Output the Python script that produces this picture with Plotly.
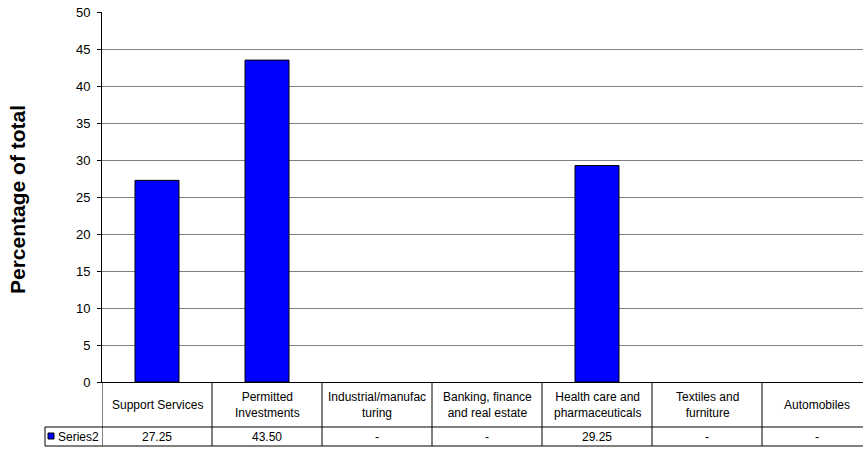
import plotly.graph_objects as go

categories = ["Support Services", "Permitted Investments", "Industrial/manufacturing",
              "Banking, finance and real estate", "Health care and pharmaceuticals",
              "Textiles and furniture", "Automobiles"]
header_labels = ["Support Services", "Permitted<br>Investments", "Industrial/manufac<br>turing",
                 "Banking, finance<br>and real estate", "Health care and<br>pharmaceuticals",
                 "Textiles and<br>furniture", "Automobiles"]
series_name = "Series2"
values = [27.25, 43.50, None, None, 29.25, None, None]
value_labels = ["27.25", "43.50", "-", "-", "29.25", "-", "-"]
y_ticks = [0, 5, 10, 15, 20, 25, 30, 35, 40, 45, 50]

W, H = 863, 449
L, R, T, B = 102, 0, 12, 67
pw = W - L - R
ph = H - T - B

def py(pix):
    # pixel y -> paper y
    return (H - B - pix) / ph

def px(pix):
    return (pix - L) / pw

FONT = "Arial, Liberation Sans, sans-serif"

fig = go.Figure()
fig.add_trace(go.Bar(
    x=categories, y=values, width=0.4, name=series_name,
    marker=dict(color="#0000FF", line=dict(color="#000000", width=1)),
    showlegend=False,
))

n = len(categories)
col_w = 110
x_max = -0.5 + pw / col_w

y_hdr_bot = py(427)
y_row_bot = py(446)
x_cell_left = px(45)

shapes = []
line = dict(color="#000000", width=1)
for i in range(n):
    shapes.append(dict(type="line", xref="x", yref="paper", x0=i + 0.5, x1=i + 0.5,
                       y0=0, y1=y_row_bot, line=line))
shapes.append(dict(type="line", xref="x", yref="paper", x0=-0.5, x1=-0.5,
                   y0=0, y1=y_row_bot, line=line))
shapes.append(dict(type="line", xref="paper", yref="paper", x0=x_cell_left, x1=1,
                   y0=y_hdr_bot, y1=y_hdr_bot, line=line))
shapes.append(dict(type="line", xref="paper", yref="paper", x0=x_cell_left, x1=1,
                   y0=y_row_bot, y1=y_row_bot, line=line))
shapes.append(dict(type="line", xref="paper", yref="paper", x0=x_cell_left, x1=x_cell_left,
                   y0=y_hdr_bot, y1=y_row_bot, line=line))
shapes.append(dict(type="rect", xref="paper", yref="paper", x0=px(48), x1=px(54),
                   y0=py(439), y1=py(433), fillcolor="#0000FF",
                   line=dict(color="#000000", width=1)))

annotations = []
for i in range(n):
    annotations.append(dict(xref="x", yref="paper", x=categories[i], y=py(404.5),
                            text=header_labels[i], showarrow=False,
                            font=dict(family=FONT, size=12, color="#000000"),
                            xanchor="center", yanchor="middle"))
    annotations.append(dict(xref="x", yref="paper", x=categories[i], y=py(436.5),
                            text=value_labels[i], showarrow=False,
                            font=dict(family=FONT, size=12, color="#000000"),
                            xanchor="center", yanchor="middle"))
annotations.append(dict(xref="paper", yref="paper", x=px(56), y=py(436.5),
                        text=series_name, showarrow=False,
                        font=dict(family=FONT, size=12, color="#000000"),
                        xanchor="left", yanchor="middle"))
annotations.append(dict(xref="paper", yref="paper", x=px(18), y=py(200),
                        text="<b>Percentage of total</b>", showarrow=False, textangle=-90,
                        font=dict(family=FONT, size=21, color="#000000"),
                        xanchor="center", yanchor="middle"))

fig.update_layout(
    width=W, height=H,
    margin=dict(l=L, r=R, t=T, b=B, pad=0),
    paper_bgcolor="white", plot_bgcolor="white",
    shapes=shapes, annotations=annotations,
    xaxis=dict(type="category", range=[-0.5, x_max], showticklabels=False, ticks="",
               showgrid=False, showline=True, linecolor="#000000", linewidth=1,
               zeroline=False, fixedrange=True),
    yaxis=dict(range=[0, 50], tickvals=y_ticks, ticks="outside", ticklen=4,
               tickcolor="#000000", showline=True, linecolor="#000000", linewidth=1,
               showgrid=True, gridcolor="#808080", gridwidth=1, zeroline=False,
               ticklabelstandoff=4,
               tickfont=dict(family=FONT, size=13, color="#000000"), fixedrange=True),
)

fig.write_html("out.html", config={"displayModeBar": False},
               post_script="document.body.style.margin='0';document.body.style.overflow='hidden';")
